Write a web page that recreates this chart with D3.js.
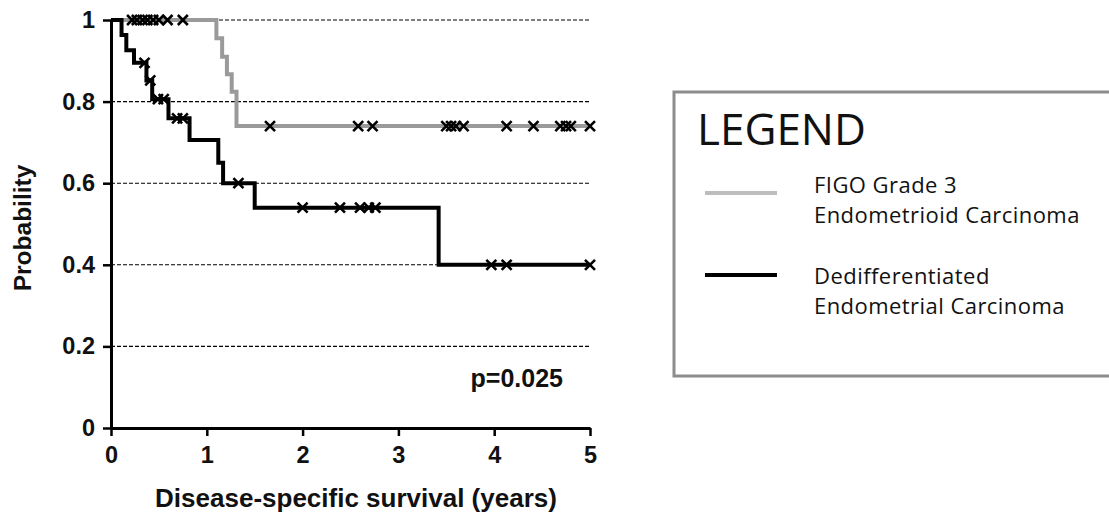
<!DOCTYPE html>
<html>
<head>
<meta charset="utf-8">
<script src="https://cdn.jsdelivr.net/npm/d3@7"></script>
<style>
  html, body { margin: 0; padding: 0; background: #fff; }
  svg { display: block; }
</style>
</head>
<body>
<svg id="chart" width="1109" height="515"></svg>
<script>
// ---------------- data ----------------
const xTicks = [0, 1, 2, 3, 4, 5];
const yTicks = [0, 0.2, 0.4, 0.6, 0.8, 1];
const yTickLabels = ["0", "0.2", "0.4", "0.6", "0.8", "1"];
const xTitle = "Disease-specific survival (years)";
const yTitle = "Probability";
const pValueText = "p=0.025";

const seriesNames = ["FIGO Grade 3|Endometrioid Carcinoma", "Dedifferentiated|Endometrial Carcinoma"];

// Grey curve (FIGO grade 3 endometrioid carcinoma)
const greyStepTimes  = [1.10, 1.16, 1.21, 1.26, 1.31];
const greyStepLevels = [0.955, 0.91, 0.867, 0.824, 0.74];
const greyCensorTimes = [0.22, 0.27, 0.33, 0.38, 0.44, 0.50, 0.59, 0.75,
                         1.66, 2.58, 2.73, 3.50, 3.55, 3.60, 3.68, 4.13, 4.41, 4.69, 4.75, 4.80, 5.0];

// Black curve (dedifferentiated endometrial carcinoma)
const blackStepTimes  = [0.11, 0.16, 0.24, 0.37, 0.43, 0.60, 0.82, 1.12, 1.17, 1.50, 3.42];
const blackStepLevels = [0.963, 0.926, 0.895, 0.852, 0.806, 0.759, 0.706, 0.65, 0.60, 0.54, 0.40];
const blackCensorTimes = [0.35, 0.41, 0.49, 0.55, 0.69, 0.75, 1.33,
                          2.0, 2.39, 2.60, 2.69, 2.76, 3.97, 4.13, 5.0];

const endTime = 5;

// ---------------- layout ----------------
const svg = d3.select("#chart");
const x = d3.scaleLinear().domain([0, 5]).range([111, 590]);
const y = d3.scaleLinear().domain([0, 1]).range([428, 20]);

const chartFont = "'Liberation Sans', Arial, sans-serif";
const legendFont = "'Open Sans', 'Noto Sans', sans-serif";

svg.append("rect").attr("width", 1109).attr("height", 515).attr("fill", "#fff");

// grid lines
svg.append("g").selectAll("line").data(yTicks.filter(d => d > 0)).join("line")
  .attr("x1", x(0)).attr("x2", x(5))
  .attr("y1", d => y(d)).attr("y2", d => y(d))
  .attr("stroke", "#000").attr("stroke-width", 1.1)
  .attr("stroke-dasharray", "4,2");

// step function helpers
function stepPoints(times, levels) {
  const pts = [[0, 1]];
  let cur = 1;
  times.forEach((t, i) => {
    pts.push([t, cur]);
    cur = levels[i];
    pts.push([t, cur]);
  });
  pts.push([endTime, cur]);
  return pts;
}
function levelAt(times, levels, t) {
  let cur = 1;
  times.forEach((tt, i) => { if (tt <= t) cur = levels[i]; });
  return cur;
}

const line = d3.line().x(d => x(d[0])).y(d => y(d[1]));

// grey curve
svg.append("path")
  .datum(stepPoints(greyStepTimes, greyStepLevels))
  .attr("d", line).attr("fill", "none")
  .attr("stroke", "#9a9a9a").attr("stroke-width", 4)
  .attr("stroke-linejoin", "miter");

// black curve
svg.append("path")
  .datum(stepPoints(blackStepTimes, blackStepLevels))
  .attr("d", line).attr("fill", "none")
  .attr("stroke", "#000").attr("stroke-width", 4)
  .attr("stroke-linejoin", "miter");

// censor marks
function drawCensors(times, stepT, stepL) {
  const s = 5;
  const g = svg.append("g");
  g.selectAll("path").data(times).join("path")
    .attr("d", t => {
      const cx = x(t), cy = y(levelAt(stepT, stepL, t));
      return `M${cx - s},${cy - s}L${cx + s},${cy + s}M${cx - s},${cy + s}L${cx + s},${cy - s}`;
    })
    .attr("stroke", "#000").attr("stroke-width", 2.6).attr("fill", "none");
}
drawCensors(greyCensorTimes, greyStepTimes, greyStepLevels);
drawCensors(blackCensorTimes, blackStepTimes, blackStepLevels);

// axes
const yAxis = d3.axisLeft(y).tickValues(yTicks).tickFormat((d, i) => yTickLabels[i])
  .tickSize(8).tickSizeOuter(0).tickPadding(8);
const gy = svg.append("g").attr("transform", `translate(${x(0)},0)`).call(yAxis);
gy.select(".domain").attr("stroke", "#000").attr("stroke-width", 3);
gy.selectAll(".tick line").attr("stroke", "#000").attr("stroke-width", 2.5);
gy.selectAll(".tick text").attr("font-family", chartFont).attr("font-weight", "bold")
  .attr("font-size", 23.5).attr("fill", "#111");

const xAxis = d3.axisBottom(x).tickValues(xTicks).tickFormat(d3.format("d"))
  .tickSize(8).tickSizeOuter(0).tickPadding(10);
const gx = svg.append("g").attr("transform", `translate(0,${y(0)})`).call(xAxis);
gx.select(".domain").attr("stroke", "#000").attr("stroke-width", 3);
gx.selectAll(".tick line").attr("stroke", "#000").attr("stroke-width", 2.5);
gx.selectAll(".tick text").attr("font-family", chartFont).attr("font-weight", "bold")
  .attr("font-size", 23.5).attr("fill", "#111");

// titles
svg.append("text").text(xTitle)
  .attr("x", 356).attr("y", 507).attr("text-anchor", "middle")
  .attr("font-family", chartFont).attr("font-weight", "bold").attr("font-size", 26).attr("fill", "#111");

svg.append("text").text(yTitle)
  .attr("transform", "translate(31,228) rotate(-90)").attr("text-anchor", "middle")
  .attr("font-family", chartFont).attr("font-weight", "bold").attr("font-size", 24.5).attr("fill", "#111");

svg.append("text").text(pValueText)
  .attr("x", 563).attr("y", 387).attr("text-anchor", "end")
  .attr("font-family", chartFont).attr("font-weight", "bold").attr("font-size", 25).attr("fill", "#111");

// legend
const lg = svg.append("g");
lg.append("rect").attr("x", 674).attr("y", 92).attr("width", 460).attr("height", 284)
  .attr("fill", "#fff").attr("stroke", "#8c8c8c").attr("stroke-width", 3);
lg.append("text").text("LEGEND").attr("x", 697).attr("y", 145)
  .attr("font-family", legendFont).attr("font-size", 44).attr("fill", "#111");

const legendColors = ["#bdbdbd", "#000"];
const legendY = [193, 275];
seriesNames.forEach((name, i) => {
  lg.append("line").attr("x1", 705).attr("x2", 777)
    .attr("y1", legendY[i]).attr("y2", legendY[i])
    .attr("stroke", legendColors[i]).attr("stroke-width", 4);
  const parts = name.split("|");
  const baseY = i === 0 ? 193 : 284;
  parts.forEach((p, j) => {
    lg.append("text").text(p).attr("x", 814).attr("y", baseY + j * 30)
      .attr("font-family", legendFont).attr("font-size", 22)
      .attr("letter-spacing", 0.45).attr("fill", "#111");
  });
});
</script>
</body>
</html>
